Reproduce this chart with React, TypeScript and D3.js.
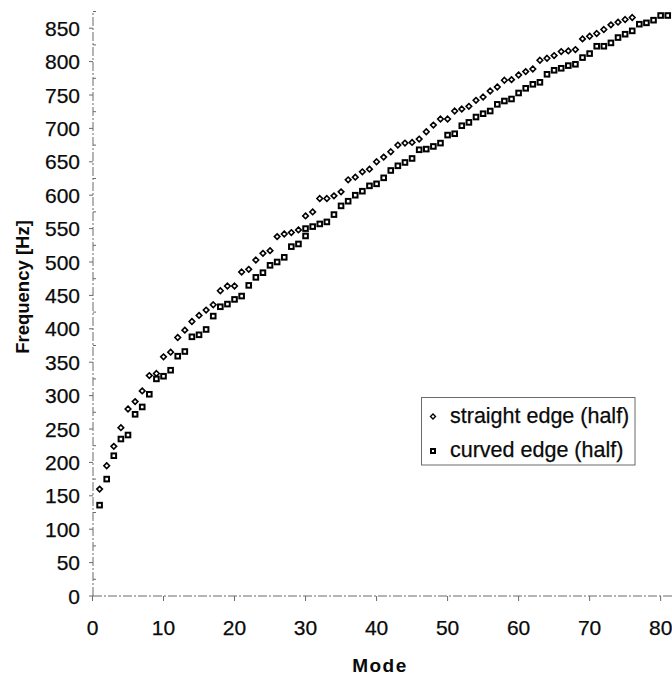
import React from "react";
import * as d3 from "d3";

const straightModes = [
  1, 2, 3, 4, 5, 6, 7, 8, 9, 10, 11, 12, 13, 14, 15, 16, 17, 18, 19, 20,
  21, 22, 23, 24, 25, 26, 27, 28, 29, 30, 31, 32, 33, 34, 35, 36, 37, 38, 39, 40,
  41, 42, 43, 44, 45, 46, 47, 48, 49, 50, 51, 52, 53, 54, 55, 56, 57, 58, 59, 60,
  61, 62, 63, 64, 65, 66, 67, 68, 69, 70, 71, 72, 73, 74, 75, 76,
];
const straightFreq = [
  160, 195, 224, 252, 280, 291, 307, 330, 333, 358, 365, 387, 398, 411, 420, 428, 436, 457, 464, 464,
  485, 489, 503, 513, 517, 538, 542, 544, 548, 569, 575, 595, 595, 599, 605, 623, 627, 635, 639, 650,
  657, 665, 675, 678, 679, 684, 695, 705, 714, 714, 726, 729, 733, 742, 747, 756, 762, 772, 773, 780,
  785, 789, 802, 805, 809, 815, 816, 818, 834, 838, 842, 848, 855, 859, 863, 866,
];

const curvedModes = [
  1, 2, 3, 4, 5, 6, 7, 8, 9, 10, 11, 12, 13, 14, 15, 16, 17, 18, 19, 20,
  21, 22, 23, 24, 25, 26, 27, 28, 29, 30, 30, 31, 32, 33, 34, 35, 36, 37, 38, 39, 40,
  41, 42, 43, 44, 45, 46, 47, 48, 49, 50, 51, 52, 53, 54, 55, 56, 57, 58, 59, 60,
  61, 62, 63, 64, 65, 66, 67, 68, 69, 70, 71, 72, 73, 74, 75, 76, 77, 78, 79, 80, 81,
];
const curvedFreq = [
  136, 175, 210, 235, 241, 272, 283, 302, 325, 329, 338, 359, 366, 388, 391, 399, 419, 433, 437, 444,
  449, 465, 477, 484, 495, 500, 507, 523, 527, 539, 550, 553, 557, 560, 571, 584, 591, 600, 606, 614, 617,
  626, 637, 644, 649, 655, 668, 669, 673, 678, 690, 692, 704, 709, 717, 722, 726, 736, 741, 744, 753,
  760, 766, 769, 781, 787, 790, 794, 796, 806, 812, 823, 823, 828, 836, 841, 846, 856, 858, 862, 869, 869,
];

const xTicks = [0, 10, 20, 30, 40, 50, 60, 70, 80];
const yTicks = [0, 50, 100, 150, 200, 250, 300, 350, 400, 450, 500, 550, 600, 650, 700, 750, 800, 850];
const yMinorTicks = [25, 75, 125, 175, 225, 275, 325, 375, 425, 475, 525, 575, 625, 675, 725, 775, 825, 875];
const legendLabels = ["straight edge (half)", "curved edge (half)"];

const FONT = "'Liberation Sans', Arial, Helvetica, sans-serif";

export default function App() {
  const x = d3.scaleLinear().domain([0, 81.6]).range([92.5, 672]);
  const y = d3.scaleLinear().domain([0, 875]).range([596, 11.5]);
  const axisColor = "#6a6a6a";
  const dash = "9 2 2 2";

  const diamond = (cx: number, cy: number, r: number) =>
    `M${cx},${cy - r}L${cx + r},${cy}L${cx},${cy + r}L${cx - r},${cy}Z`;

  return (
    <svg
      width={672}
      height={675}
      style={{ position: "absolute", left: 0, top: 0, background: "#fff" }}
      fontFamily={FONT}
    >
      <rect x={0} y={0} width={672} height={675} fill="#fff" />
      {/* Y axis */}
      <line x1={93} x2={93} y1={y(0)} y2={y(875)} stroke={axisColor} strokeWidth={1} strokeDasharray={dash} />
      {yTicks.map((t) => (
        <g key={"yt" + t}>
          <line x1={89} x2={93} y1={y(t)} y2={y(t)} stroke={axisColor} strokeWidth={1} />
          <text x={80} y={y(t) + 7.6} textAnchor="end" fontSize={21} fill="#0a0a0a" stroke="#0a0a0a" strokeWidth={0.25}>
            {t}
          </text>
        </g>
      ))}
      {yMinorTicks.map((t) => (
        <line key={"ym" + t} x1={93} x2={96} y1={y(t)} y2={y(t)} stroke={axisColor} strokeWidth={1} />
      ))}
      {/* X axis */}
      <line x1={93} x2={672} y1={y(0)} y2={y(0)} stroke={axisColor} strokeWidth={1} strokeDasharray={dash} />
      {xTicks.map((t) => (
        <g key={"xt" + t}>
          <line x1={x(t)} x2={x(t)} y1={y(0)} y2={y(0) + 5} stroke={axisColor} strokeWidth={1} />
          <text x={x(t)} y={634.8} textAnchor="middle" fontSize={21} fill="#0a0a0a" stroke="#0a0a0a" strokeWidth={0.25}>
            {t}
          </text>
        </g>
      ))}
      {/* Axis titles */}
      <text x={380} y={672} textAnchor="middle" fontSize={19} fontWeight="bold" letterSpacing={1.5} fill="#0a0a0a">
        Mode
      </text>
      <text
        transform="translate(29,287) rotate(-90)"
        textAnchor="middle"
        fontSize={18.5}
        fontWeight="bold"
        fill="#0a0a0a"
      >
        Frequency [Hz]
      </text>
      {/* Data: straight edge (diamonds) */}
      {straightFreq.map((v, i) => (
        <path
          key={"s" + i}
          d={diamond(x(straightModes[i]), y(v), 2.8)}
          fill="#fff"
          stroke="#000"
          strokeWidth={1.6}
        />
      ))}
      {/* Data: curved edge (squares) */}
      {curvedFreq.map((v, i) => (
        <rect
          key={"c" + i}
          x={x(curvedModes[i]) - 2.3}
          y={y(v) - 2.3}
          width={4.6}
          height={4.6}
          fill="#fff"
          stroke="#000"
          strokeWidth={2}
        />
      ))}
      {/* Legend */}
      <rect x={421.5} y={397.5} width={213.5} height={67.5} fill="#fff" stroke={axisColor} strokeWidth={1} />
      <path d={diamond(433, 416.5, 2.5)} fill="#fff" stroke="#000" strokeWidth={1.4} />
      <text x={450} y={422.7} fontSize={21.5} fill="#0a0a0a" stroke="#0a0a0a" strokeWidth={0.25}>
        {legendLabels[0]}
      </text>
      <rect x={431} y={449} width={4} height={4} fill="#fff" stroke="#000" strokeWidth={2} />
      <text x={450} y={456.7} fontSize={21.5} fill="#0a0a0a" stroke="#0a0a0a" strokeWidth={0.25}>
        {legendLabels[1]}
      </text>
    </svg>
  );
}
